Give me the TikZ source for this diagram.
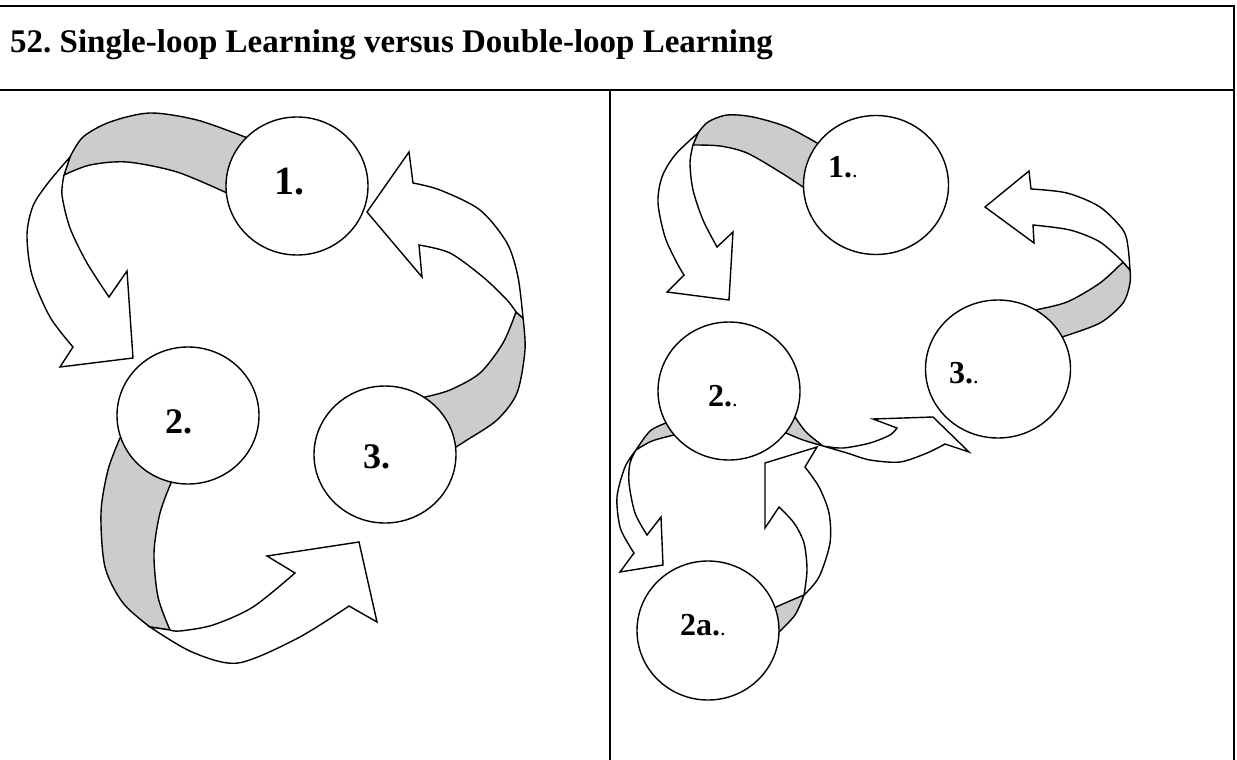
\documentclass[tikz,border=0pt]{standalone}
\usepackage{fontspec}
\setmainfont{Liberation Serif}
\usetikzlibrary{shapes.geometric}
\definecolor{bandgray}{RGB}{204,204,204}
\newcommand{\smalldot}{{\mdseries\fontsize{22}{22}\selectfont .}}
\frenchspacing
\begin{document}
\begin{tikzpicture}[x=1pt,y=-1pt,
  frameline/.style={line width=2.4pt},
  stage/.style={ellipse, draw, fill=white, line width=1.4pt, inner sep=0pt,
                minimum width=142pt, minimum height=138pt},
  band/.style={draw, fill=bandgray, line width=1.4pt, line join=round},
  ribbon/.style={draw, fill=white, line width=1.4pt, line join=miter},
  lblbig/.style={font=\fontsize{40}{40}\selectfont\bfseries, inner sep=0pt, anchor=base west},
  lbl/.style={font=\fontsize{36}{36}\selectfont\bfseries, inner sep=0pt, anchor=base west},
  lblr/.style={font=\fontsize{32}{32}\selectfont\bfseries, inner sep=0pt, anchor=base west},
  titletext/.style={font=\fontsize{33}{33}\selectfont\bfseries, inner sep=0pt, anchor=base west}]
\useasboundingbox (0,0) rectangle (1237,760);

% ---------- frame ----------
\draw[frameline] (0,6) -- (1235,6);
\draw[frameline] (0,90) -- (1235,90);
\draw[frameline] (1234,6) -- (1234,760);
\draw[frameline] (610,90) -- (610,760);
\node[titletext] (title) at (10,53) {52. Single-loop Learning versus Double-loop Learning};

% ---------- left panel arrows ----------
% A: 1 -> 2
\filldraw[band] (262,142) -- plot[smooth] coordinates {(245,137) (197,120) (150,113) (110,122) (83,137) (70,157)}
  -- plot[smooth] coordinates {(64,175) (90,165) (127,162) (177,172) (227,193)} -- (262,195) -- cycle;
\filldraw[ribbon] plot[smooth] coordinates {(70,157) (48,183) (33,206) (27,235) (32,275) (50,317) (73,347)}
  -- (60,367) -- (133,358) -- (127,271) -- (109,297)
  -- plot[smooth] coordinates {(109,297) (87,263) (70,228) (62,195) (64,175)} -- cycle;
% B: 2 -> 3
\filldraw[band] (135,430) -- plot[smooth] coordinates {(120,438) (108,470) (101,513) (105,567) (123,603) (150,627)}
  -- plot[smooth] coordinates {(170,630) (158,597) (154,553) (160,513) (171,483)} -- (178,460) -- cycle;
\filldraw[ribbon] plot[smooth] coordinates {(150,627) (192,652) (238,663) (298,638) (349,606)}
  -- (377,622) -- (359,542) -- (267,556) -- (295,573)
  -- plot[smooth] coordinates {(295,573) (253,607) (213,625) (180,631) (170,630)} -- cycle;
% C: 3 -> 1
\filldraw[band] (415,420) -- plot[smooth] coordinates {(425,397) (450,390) (480,373) (503,343) (516,312)}
  -- plot[smooth] coordinates {(523,318) (525,350) (517,393) (497,420) (467,440) (456,447)} -- (440,445) -- cycle;
\filldraw[ribbon] plot[smooth] coordinates {(523,318) (518,277) (507,243) (480,210) (440,190) (413,183)}
  -- (409,152) -- (367,212) -- (422,277) -- (419,245)
  -- plot[smooth] coordinates {(419,245) (450,253) (483,277) (507,300) (516,312)} -- cycle;

% ---------- right panel arrows ----------
% D: 1.. -> 2..
\filldraw[band] (835,150) -- plot[smooth] coordinates {(817,143) (787,127) (753,117) (727,115) (708,122) (698,133)}
  -- plot[smooth] coordinates {(693,145) (720,146) (747,153) (780,172) (803,187)} -- (835,190) -- cycle;
\filldraw[ribbon] plot[smooth] coordinates {(698,133) (675,155) (662,177) (658,203) (665,237) (677,263) (684,275)}
  -- (667,292) -- (729,300) -- (733,232) -- (717,247)
  -- plot[smooth] coordinates {(717,247) (703,220) (693,190) (690,163) (693,145)} -- cycle;
% E: 3.. -> 1..
\filldraw[band] (1025,330) -- plot[smooth] coordinates {(1035,310) (1067,302) (1100,283) (1123,262)}
  -- plot[smooth] coordinates {(1130,270) (1130,283) (1123,303) (1100,323) (1062,337)} -- (1040,345) -- cycle;
\filldraw[ribbon] plot[smooth] coordinates {(1130,270) (1128,247) (1123,230) (1100,207) (1067,193) (1031,189)}
  -- (1029,171) -- (985,207) -- (1034,243) -- (1033,225)
  -- plot[smooth] coordinates {(1033,225) (1070,230) (1100,242) (1123,262)} -- cycle;
% F: 2.. -> 3..
\filldraw[band] (780,418) -- plot[smooth] coordinates {(795,417) (806,432) (823,446)}
  -- plot[smooth] coordinates {(823,446) (803,440) (786,433)} -- (778,428) -- cycle;
\filldraw[ribbon] plot[smooth] coordinates {(823,446) (843,448) (870,443) (890,435) (897,428)}
  -- (873,419) -- (933,417) -- (969,452) -- (945,444)
  -- plot[smooth] coordinates {(945,444) (927,453) (900,462) (870,460) (847,453) (823,446)} -- cycle;
% G: 2.. -> 2a..
\filldraw[band] (680,425) -- plot[smooth] coordinates {(666,423) (650,431) (636,450)}
  -- plot[smooth] coordinates {(636,450) (652,441) (674,435)} -- cycle;
\filldraw[ribbon] plot[smooth] coordinates {(636,450) (625,467) (617,497) (620,527) (629,545) (634,553)}
  -- (620,572) -- (663,565) -- (661,517) -- (647,535)
  -- plot[smooth] coordinates {(647,535) (635,513) (629,483) (630,463) (636,450)} -- cycle;
% H: 2a.. -> 2..
\filldraw[band] (768,615) -- plot[smooth] coordinates {(776,607) (792,600) (804,595)}
  -- plot[smooth] coordinates {(804,595) (795,615) (779,632)} -- cycle;
\filldraw[ribbon] plot[smooth] coordinates {(804,595) (807,570) (804,543) (794,523) (779,507)}
  -- (765,528) -- (765,463) -- (817,447) -- (805,467)
  -- plot[smooth] coordinates {(805,467) (819,487) (829,513) (830,543) (819,577) (804,595)} -- cycle;

% ---------- stages ----------
\node[stage] (c1) at (297,186) {};
\node[stage, minimum height=137pt] (c2) at (188,415.5) {};
\node[stage, minimum height=137pt] (c3) at (385,454.5) {};
\node[stage, minimum width=145pt, minimum height=139pt] (d1) at (876,185) {};
\node[stage] (d2) at (729,391) {};
\node[stage, minimum width=145pt] (d3) at (998,369) {};
\node[stage, minimum height=139pt] (d2a) at (708,630.5) {};

% ---------- labels ----------
\node[lblbig] (l1) at (274,194) {1.};
\node[lbl] (l2) at (165,433) {2.};
\node[lbl] (l3) at (363,468) {3.};
\node[lblr] (r1) at (828,177) {1.\smalldot};
\node[lblr] (r2) at (708,406) {2.\smalldot};
\node[lblr] (r3) at (949,383) {3.\smalldot};
\node[lblr] (r2a) at (680,635) {2a.\smalldot};
\end{tikzpicture}
\end{document}
